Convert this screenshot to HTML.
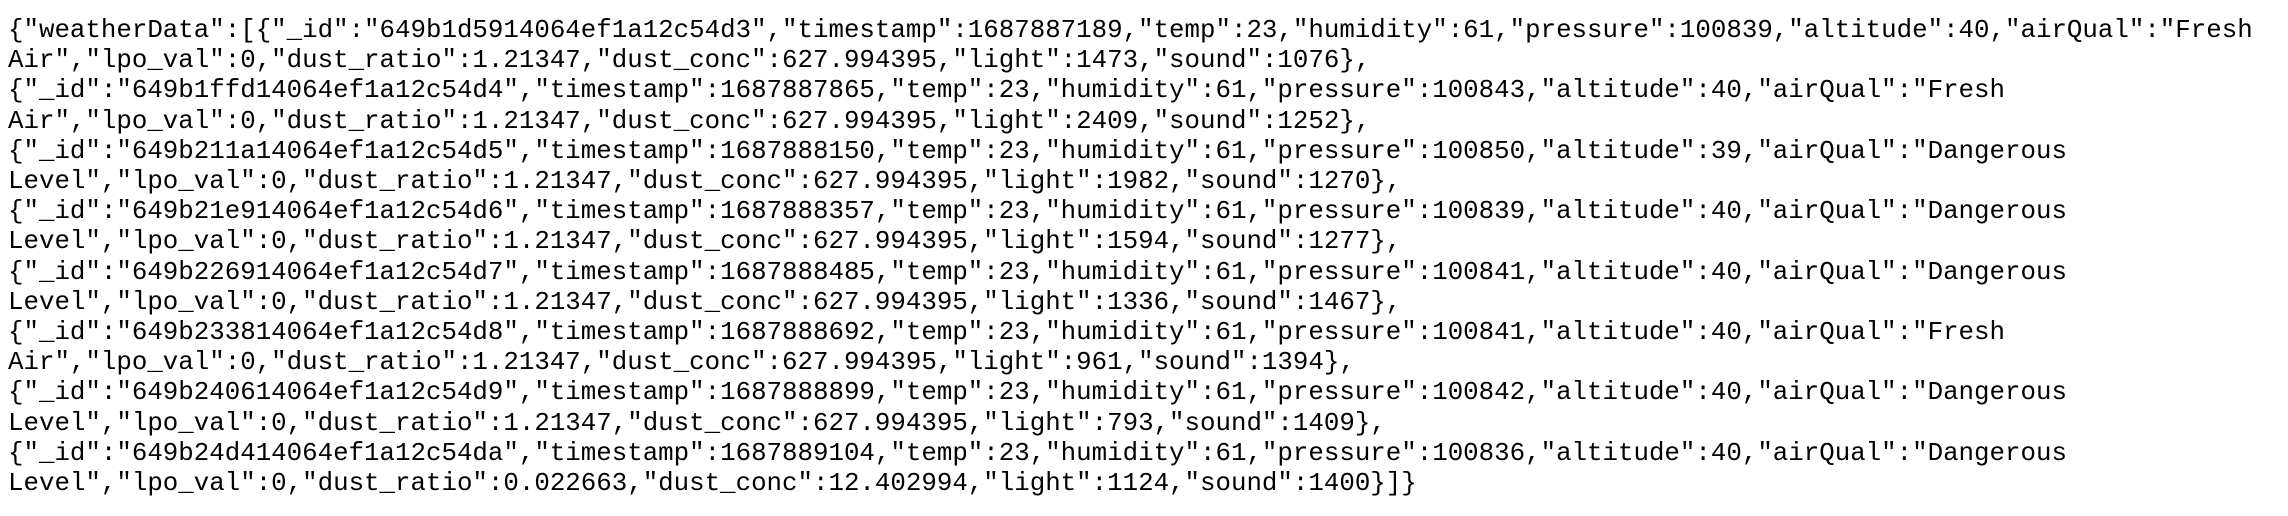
<!DOCTYPE html>
<html><head><meta charset="utf-8"><style>
html,body{margin:0;padding:0;background:#fff;width:2288px;height:516px;overflow:hidden}
pre{margin:0;position:absolute;left:8px;top:16px;font-family:"Liberation Mono","Courier New",monospace;font-size:25.8px;line-height:30.2px;color:#000;white-space:pre}
</style></head><body>
<pre>{"weatherData":[{"_id":"649b1d5914064ef1a12c54d3","timestamp":1687887189,"temp":23,"humidity":61,"pressure":100839,"altitude":40,"airQual":"Fresh
Air","lpo_val":0,"dust_ratio":1.21347,"dust_conc":627.994395,"light":1473,"sound":1076},
{"_id":"649b1ffd14064ef1a12c54d4","timestamp":1687887865,"temp":23,"humidity":61,"pressure":100843,"altitude":40,"airQual":"Fresh
Air","lpo_val":0,"dust_ratio":1.21347,"dust_conc":627.994395,"light":2409,"sound":1252},
{"_id":"649b211a14064ef1a12c54d5","timestamp":1687888150,"temp":23,"humidity":61,"pressure":100850,"altitude":39,"airQual":"Dangerous
Level","lpo_val":0,"dust_ratio":1.21347,"dust_conc":627.994395,"light":1982,"sound":1270},
{"_id":"649b21e914064ef1a12c54d6","timestamp":1687888357,"temp":23,"humidity":61,"pressure":100839,"altitude":40,"airQual":"Dangerous
Level","lpo_val":0,"dust_ratio":1.21347,"dust_conc":627.994395,"light":1594,"sound":1277},
{"_id":"649b226914064ef1a12c54d7","timestamp":1687888485,"temp":23,"humidity":61,"pressure":100841,"altitude":40,"airQual":"Dangerous
Level","lpo_val":0,"dust_ratio":1.21347,"dust_conc":627.994395,"light":1336,"sound":1467},
{"_id":"649b233814064ef1a12c54d8","timestamp":1687888692,"temp":23,"humidity":61,"pressure":100841,"altitude":40,"airQual":"Fresh
Air","lpo_val":0,"dust_ratio":1.21347,"dust_conc":627.994395,"light":961,"sound":1394},
{"_id":"649b240614064ef1a12c54d9","timestamp":1687888899,"temp":23,"humidity":61,"pressure":100842,"altitude":40,"airQual":"Dangerous
Level","lpo_val":0,"dust_ratio":1.21347,"dust_conc":627.994395,"light":793,"sound":1409},
{"_id":"649b24d414064ef1a12c54da","timestamp":1687889104,"temp":23,"humidity":61,"pressure":100836,"altitude":40,"airQual":"Dangerous
Level","lpo_val":0,"dust_ratio":0.022663,"dust_conc":12.402994,"light":1124,"sound":1400}]}</pre>
</body></html>
